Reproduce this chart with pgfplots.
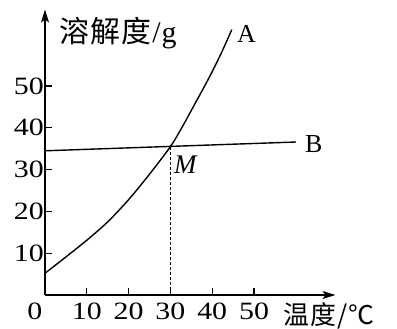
\documentclass[border=0pt]{standalone}
\usepackage{fontspec}
\setmainfont{Liberation Serif}
\newfontfamily\numfont{Liberation Serif}[FakeStretch=1.2]
\newfontfamily\cjk{Noto Sans CJK SC}
\usepackage{pgfplots}
\pgfplotsset{compat=1.18}
\usetikzlibrary{arrows.meta}
\begin{document}
\begin{tikzpicture}
\begin{axis}[
 at={(0,0)}, anchor=origin,
 x=4.18bp, y=4.18bp,
 xmin=0, xmax=69.5, ymin=0, ymax=68.3,
 axis lines=left,
 axis line style={line width=1.3bp, -{Stealth[length=13bp,width=8bp,inset=3bp]}},
 xtick={10,20,30,40,50}, ytick={10,20,30,40,50},
 tick align=inside,
 major tick length=7bp,
 tick style={line width=1.3bp, black},
 tick label style={font=\fontsize{25}{25}\selectfont\numfont},
 /pgf/number format/assume math mode=true,
 xticklabel style={yshift=-4bp},
 yticklabel style={inner sep=1bp},
 clip=false,
]
\addplot[black, line width=1.4bp, smooth] coordinates {
 (0,5.2) (5,9.1) (10,13.1) (15,17.5) (20,22.8) (25,28.9) (30,35.5)
 (33,40.5) (36,46) (39,51.5) (42,57.5) (44.7,63.5)};
\addplot[black, line width=1.4bp] coordinates {(0,34.5) (60,36.6)};
\addplot[black, line width=1.1bp, dash pattern=on 3bp off 2bp] coordinates {(30,35.5) (30,0)};
\node[font=\fontsize{26}{26}\selectfont] at (axis cs:48.2,62.4) {A};
\node[font=\fontsize{26}{26}\selectfont] at (axis cs:64.3,36) {B};
\node[font=\fontsize{27}{27}\selectfont\itshape] at (axis cs:33.6,31.2) {M};
\node[font=\fontsize{25}{25}\selectfont\numfont, anchor=north] at (axis cs:-2.4,0) [yshift=-4bp, inner sep=0.333em] {0};
\node[font=\fontsize{30}{30}\selectfont] at (axis cs:17.5,62.7) {{\cjk 溶\kern1bp 解\kern1bp 度}\kern1bp/\kern1bp g};
\node[font=\fontsize{26}{26}\selectfont] at (axis cs:67.9,-5.0) {{\cjk 温\kern1bp 度\kern1bp /\kern1bp ℃}};
\end{axis}
\pgfresetboundingbox
\useasboundingbox (-45bp,-34bp) rectangle (352bp,295bp);
\end{tikzpicture}
\end{document}
